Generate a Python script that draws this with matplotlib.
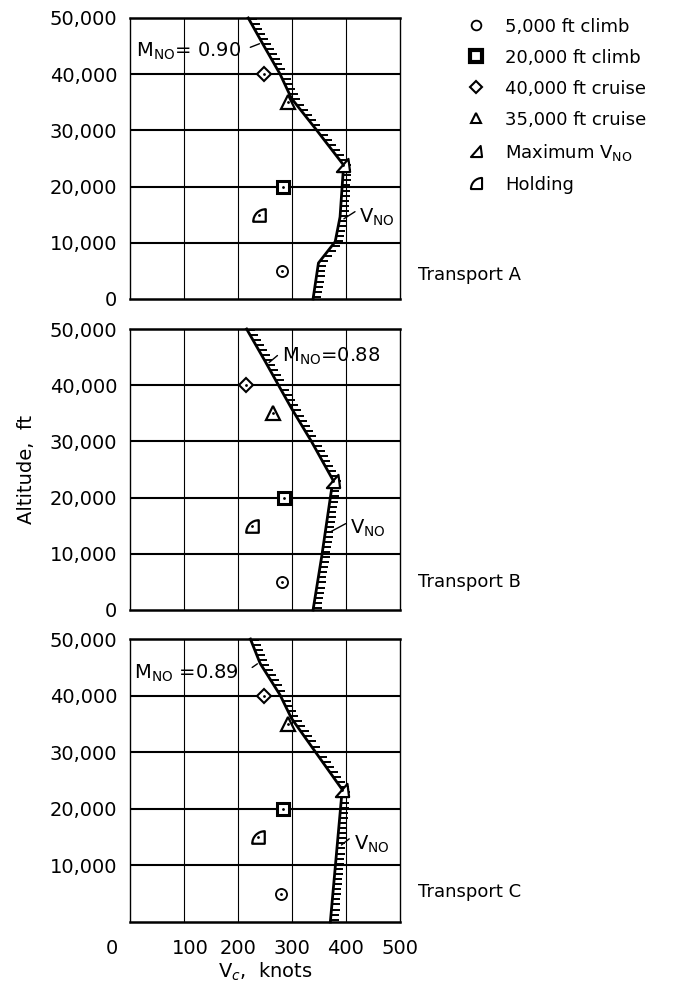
import numpy as np
import matplotlib.pyplot as plt
import matplotlib.transforms as mtransforms
from matplotlib.path import Path
from matplotlib.lines import Line2D
from matplotlib.collections import LineCollection

plt.rcParams['font.family'] = ['DejaVu Sans']

transports = ['Transport A', 'Transport B', 'Transport C']
mach_labels = [r'M$_\mathrm{NO}$= 0.90', r'M$_\mathrm{NO}$=0.88', r'M$_\mathrm{NO}$ =0.89']
vno_label = r'V$_\mathrm{NO}$'

# V_NO / M_NO boundary, knots vs altitude ft
bound_v = [
    [339, 349, 380, 389, 395, 395, 346, 299, 278, 247, 219],
    [339, 355, 373, 376, 336, 299, 275, 250, 216],
    [371, 393, 343, 299, 278, 241, 223],
]
bound_h = [
    [0, 6400, 10200, 14600, 23000, 23900, 30000, 35700, 40000, 45200, 50000],
    [0, 9500, 21300, 23100, 30000, 35900, 40000, 44300, 50000],
    [0, 23400, 30100, 36000, 40100, 45700, 50000],
]

# flight points
climb5_v = [281, 281, 280]
climb20_v = [284, 285, 284]
cruise40_v = [248, 215, 248]
cruise35_v = [293, 265, 293]
max_vno_v = [395, 376, 393]
max_vno_h = [23800, 23000, 23300]
holding_v = [238, 226, 237]

climb5_h = 5000
climb20_h = 20000
cruise40_h = 40000
cruise35_h = 35000
holding_h = 15000

x_ticks = [0, 100, 200, 300, 400, 500]
y_ticks = [0, 10000, 20000, 30000, 40000, 50000]


def max_vno_marker():
    return Path([(-1, -1), (1, -1), (0.75, 1), (-1, -1)],
                [Path.MOVETO, Path.LINETO, Path.LINETO, Path.CLOSEPOLY])


def holding_marker():
    arc = Path.arc(90, 180)
    verts = np.vstack([arc.vertices * 2 + [1, -1], [[1, -1], [1, 1]]])
    codes = list(arc.codes) + [Path.LINETO, Path.CLOSEPOLY]
    return Path(verts, codes)


m_max = max_vno_marker()
m_hold = holding_marker()

fig = plt.figure(figsize=(6.9, 9.88), dpi=100)
boxes = [(0.1884, 0.6974, 0.3913, 0.2844),
         (0.1884, 0.3826, 0.3913, 0.2844),
         (0.1884, 0.0668, 0.3913, 0.2864)]

# label placement per panel (text pos, leader start on curve alt, leader end)
mach_txt = [(12, 44000), (282, 45100), (8, 44000)]
mach_lead = [(45600, (218, 44600)), (43700, (277, 45600)), (45900, (222, 44700))]
vno_txt = [(425, 14600), (408, 14600), (414, 13800)]
vno_lead = [(14000, (421, 15800)), (13600, (404, 15600)), (13300, (410, 15000))]
tr_y = [4300, 5000, 5300]

# marker, size, edge width
styles = {'o': (8, 1.3), 's': (8.5, 2.2), 'D': (7.5, 1.5), '^': (9.5, 1.6),
          'max': (9.5, 1.6), 'hold': (9, 1.6)}

for i in range(3):
    ax = fig.add_axes(boxes[i])
    ax.set_xlim(0, 500)
    ax.set_ylim(0, 50000)
    ax.set_xticks(x_ticks)
    if i < 2:
        ax.set_yticks(y_ticks)
    else:
        ax.set_yticks(y_ticks[1:])
    ax.set_yticklabels(['{:,}'.format(t) for t in ax.get_yticks()])
    ax.tick_params(length=0, labelsize=14, pad=9)
    if i < 2:
        ax.tick_params(axis='x', labelbottom=False)
    else:
        ax.set_xticklabels([str(t) for t in x_ticks])
        ax.tick_params(axis='x', pad=12)
        ax.set_xlabel('V$_c$,  knots', fontsize=14, labelpad=2)
        labs = ax.get_xticklabels()
        for lab, dx in zip(labs[:2], [-18, 6]):
            lab.set_transform(lab.get_transform() +
                              mtransforms.ScaledTranslation(dx / 100, 0, fig.dpi_scale_trans))
    if i == 1:
        ax.set_ylabel('Altitude,  ft', fontsize=14, labelpad=10)

    for t in x_ticks[1:-1]:
        ax.axvline(t, color='black', lw=0.8, zorder=1)
    for t in y_ticks[1:-1]:
        ax.axhline(t, color='black', lw=1.5, zorder=1)
    ax.spines['top'].set_linewidth(1.8)
    ax.spines['bottom'].set_linewidth(1.8)
    ax.spines['left'].set_linewidth(1.0)
    ax.spines['right'].set_linewidth(1.0)

    v = bound_v[i]
    h = bound_h[i]
    ax.plot(v, h, color='black', lw=2.0, zorder=3, clip_on=False)
    # hatching on the high-speed side
    hy = np.arange(400, 50000, 900)
    hx = np.interp(hy, h, v)
    segs = [[(x, y), (x + 15, y)] for x, y in zip(hx, hy)]
    ax.add_collection(LineCollection(segs, colors='black', lw=1.4, zorder=3))

    pts = [
        (climb5_v[i], climb5_h, 'o', 'o'),
        (climb20_v[i], climb20_h, 's', 's'),
        (cruise40_v[i], cruise40_h, 'D', 'D'),
        (cruise35_v[i], cruise35_h, '^', '^'),
        (max_vno_v[i], max_vno_h[i], m_max, 'max'),
        (holding_v[i], holding_h, m_hold, 'hold'),
    ]
    for x, y, m, key in pts:
        size, mw = styles[key]
        ax.plot([x], [y], marker=m, ms=size, mfc='white', mec='black',
                mew=mw, ls='none', zorder=5)
        ax.plot([x], [y], marker='.', ms=2, color='black', ls='none', zorder=6)

    ax.text(mach_txt[i][0], mach_txt[i][1], mach_labels[i], fontsize=14,
            ha='left', va='center', zorder=7)
    ya, p = mach_lead[i]
    ax.annotate('', xy=(np.interp(ya, h, v), ya), xytext=p,
                arrowprops=dict(arrowstyle='-', lw=1.0, color='black'))
    ax.text(vno_txt[i][0], vno_txt[i][1], vno_label, fontsize=14,
            ha='left', va='center', clip_on=False)
    ya, p = vno_lead[i]
    ax.annotate('', xy=(np.interp(ya, h, v) + 4, ya), xytext=p,
                arrowprops=dict(arrowstyle='-', lw=1.0, color='black'),
                annotation_clip=False)
    ax.text(533, tr_y[i], transports[i], fontsize=13, ha='left',
            va='center', clip_on=False)

handles = [
    Line2D([], [], marker='o', ms=7, mfc='white', mec='black', mew=1.3, ls='none'),
    Line2D([], [], marker='s', ms=9, mfc='white', mec='black', mew=3.0, ls='none'),
    Line2D([], [], marker='D', ms=6.5, mfc='white', mec='black', mew=1.5, ls='none'),
    Line2D([], [], marker='^', ms=7, mfc='white', mec='black', mew=1.5, ls='none'),
    Line2D([], [], marker=m_max, ms=8, mfc='white', mec='black', mew=1.5, ls='none'),
    Line2D([], [], marker=m_hold, ms=8, mfc='white', mec='black', mew=1.5, ls='none'),
]
labels = ['5,000 ft climb', '20,000 ft climb', '40,000 ft cruise',
          '35,000 ft cruise', 'Maximum ' + vno_label, 'Holding']
fig.legend(handles, labels, loc='upper left', bbox_to_anchor=(0.659, 0.995),
           frameon=False, fontsize=13, handlelength=1.0, handletextpad=1.1,
           labelspacing=0.72, borderaxespad=0.3)

fig.savefig('out.png', dpi=100)
